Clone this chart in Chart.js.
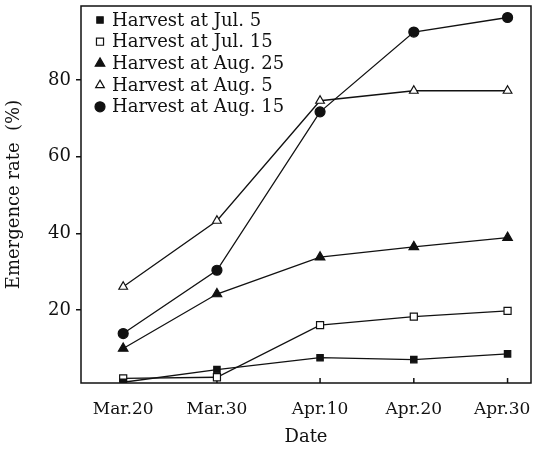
<!DOCTYPE html>
<html>
<head>
<meta charset="utf-8">
<script src="https://cdn.jsdelivr.net/npm/chart.js@4.4.1/dist/chart.umd.min.js"></script>
<style>
  body { margin: 0; background: #fff; }
  #wrap { width: 534px; height: 452px; }
</style>
</head>
<body>
<div id="wrap"><canvas id="chart"></canvas></div>
<script>
// days after Mar.20 for each sampling date
const days = [0, 10, 21, 31, 41];
const dateLabels = ['Mar.20', 'Mar.30', 'Apr.10', 'Apr.20', 'Apr.30'];
const yTicks = [20, 40, 60, 80];

// emergence rate (%) per harvest date
const jul5 = [1.2, 4.5, 7.6, 7.1, 8.6];
const jul15 = [2.2, 2.5, 16.1, 18.3, 19.8];
const aug25 = [10.0, 24.2, 33.8, 36.5, 38.9];
const aug5 = [26.1, 43.3, 74.6, 77.2, 77.2];
const aug15 = [13.9, 30.4, 71.7, 92.5, 96.3];

const FONT = 'DejaVu Serif';
const INK = '#111';

function series(label, values, style, fill, radius) {
    return {
        label: label,
        data: days.map((d, i) => ({ x: d, y: values[i] })),
        borderColor: INK,
        borderWidth: 1.3,
        pointStyle: style,
        pointRadius: radius,
        pointBackgroundColor: fill,
        pointBorderColor: INK,
        pointBorderWidth: 1.2,
        tension: 0
    };
}

// legend drawn inside the plot, top-left
const insideLegend = {
    id: 'insideLegend',
    afterDraw(chart) {
        const ctx = chart.ctx;
        ctx.save();
        ctx.font = '18px "' + FONT + '"';
        ctx.textBaseline = 'middle';
        chart.data.datasets.forEach((ds, i) => {
            const y = 20 + i * 21.7;
            ctx.fillStyle = ds.pointBackgroundColor;
            ctx.strokeStyle = INK;
            ctx.lineWidth = 1.2;
            Chart.helpers.drawPoint(ctx, { pointStyle: ds.pointStyle, radius: ds.pointRadius, borderWidth: 1.2, rotation: 0 }, 100, y);
            ctx.fillStyle = INK;
            ctx.fillText(ds.label, 112, y + 1);
        });
        ctx.restore();
    }
};

// frame around the plot and inward ticks on the date axis
const frame = {
    id: 'frame',
    beforeDatasetsDraw(chart) {
        const { ctx, chartArea: a } = chart;
        const xs = chart.scales.x;
        ctx.save();
        ctx.strokeStyle = INK;
        ctx.lineWidth = 1.5;
        ctx.strokeRect(a.left, a.top, a.right - a.left, a.bottom - a.top);
        ctx.beginPath();
        days.forEach(d => {
            const px = xs.getPixelForValue(d);
            ctx.moveTo(px, a.bottom);
            ctx.lineTo(px, a.bottom - 5);
        });
        ctx.stroke();
        ctx.restore();
    }
};

function noEdgePadding(s) {
    s.paddingLeft = 0;
    s.paddingRight = 0;
    s.paddingTop = 0;
    s.paddingBottom = 0;
}

new Chart(document.getElementById('chart'), {
    type: 'line',
    data: {
        datasets: [
            series('Harvest at Jul. 5', jul5, 'rect', INK, 4.5),
            series('Harvest at Jul. 15', jul15, 'rect', '#fff', 5),
            series('Harvest at Aug. 25', aug25, 'triangle', INK, 5.5),
            series('Harvest at Aug. 5', aug5, 'triangle', '#fff', 5),
            series('Harvest at Aug. 15', aug15, 'circle', INK, 5)
        ]
    },
    options: {
        responsive: true,
        maintainAspectRatio: false,
        animation: false,
        layout: { autoPadding: false, padding: { top: 6, right: 3, left: 0, bottom: 0 } },
        plugins: {
            legend: { display: false },
            tooltip: { enabled: false }
        },
        scales: {
            x: {
                type: 'linear',
                min: -4.5,
                max: 43.5,
                afterBuildTicks: s => { s.ticks = days.map(v => ({ value: v })); },
                afterFit: s => { s.height = 69; noEdgePadding(s); },
                grid: { display: false },
                border: { display: false },
                ticks: {
                    color: INK,
                    font: { family: FONT, size: 17 },
                    padding: 8,
                    maxRotation: 0,
                    // last label nudged left so it stays on the canvas
                    callback: v => {
                        const i = days.indexOf(v);
                        return i === days.length - 1 ? dateLabels[i] + '  ' : dateLabels[i];
                    }
                },
                title: {
                    display: true,
                    text: 'Date',
                    color: INK,
                    font: { family: FONT, size: 18 },
                    padding: { top: 0, bottom: 4 }
                }
            },
            y: {
                min: 1,
                max: 99.3,
                afterBuildTicks: s => { s.ticks = yTicks.map(v => ({ value: v })); },
                afterFit: s => { s.width = 81; noEdgePadding(s); },
                grid: { drawOnChartArea: false, drawTicks: true, tickLength: 5, color: INK, lineWidth: 1.5 },
                border: { display: false },
                ticks: {
                    color: INK,
                    font: { family: FONT, size: 18 },
                    padding: 5
                },
                title: {
                    display: true,
                    text: 'Emergence rate  (%)',
                    color: INK,
                    font: { family: FONT, size: 18 },
                    padding: { top: 4, bottom: 0 }
                }
            }
        }
    },
    plugins: [frame, insideLegend]
});
</script>
</body>
</html>
